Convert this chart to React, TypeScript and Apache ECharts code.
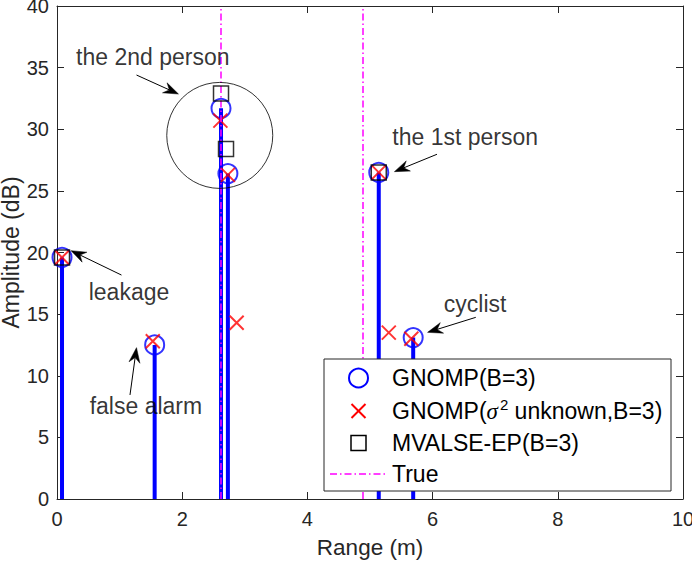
import React, { useEffect, useRef } from 'react';
import * as echarts from 'echarts';

// ---- data ----
const GNOMP_X = [0.08, 1.56, 2.62, 2.73, 5.14, 5.69];
const GNOMP_Y = [19.6, 12.5, 31.7, 26.4, 26.5, 13.1];
const SIGMA_X = [0.08, 1.53, 2.61, 2.73, 2.87, 5.14, 5.3, 5.66];
const SIGMA_Y = [19.6, 12.8, 30.7, 26.3, 14.3, 26.5, 13.5, 13.0];
const MVALSE_X = [0.08, 2.62, 2.7, 5.14];
const MVALSE_Y = [19.6, 32.9, 28.4, 26.5];
const TRUE_X = [2.62, 4.88];

const X_MIN = 0, X_MAX = 10, X_STEP = 2;
const Y_MIN = 0, Y_MAX = 40, Y_STEP = 5;

const LEGEND_NAMES = ['GNOMP(B=3)', 'GNOMP(σ2 unknown,B=3)', 'MVALSE-EP(B=3)', 'True'];

const NOTE_TEXTS = ['the 2nd person', 'the 1st person', 'leakage', 'false alarm', 'cyclist'];
const NOTE_POS = [[1.53, 35.9], [6.52, 29.4], [1.15, 16.8], [1.42, 7.55], [6.68, 15.8]];
const ARROW_FROM = [[1.27, 34.4], [6.07, 27.97], [1.03, 18.17], [1.166, 8.44], [6.69, 14.74]];
const ARROW_TO = [[1.94, 32.86], [5.39, 26.56], [0.224, 20.15], [1.27, 12.28], [5.92, 13.52]];
const RING_CENTER = [2.6, 29.5];

const FONT = '"Liberation Sans", Arial, Helvetica, sans-serif';
const AXIS_COLOR = '#262626';

const pairs = (xs: number[], ys: number[]) => xs.map((x, i) => [x, ys[i]]);

export default function App() {
  const ref = useRef<HTMLDivElement>(null);
  useEffect(() => {
    if (!ref.current) return;
    const chart = echarts.init(ref.current, undefined, { renderer: 'svg' });

    const baseAxis = {
      axisLine: { show: true, onZero: false, lineStyle: { color: AXIS_COLOR, width: 1 } },
      axisTick: { show: true, inside: true, length: 7, lineStyle: { color: AXIS_COLOR, width: 1 } },
      splitLine: { show: false },
      minorTick: { show: false },
      nameMoveOverlap: false,
    };

    const LEG = { x: 324, y: 359, w: 347, h: 132, rows: [378, 411, 443, 474], iconX: 358.5, textX: 392 };
    const legText = (i: number, text: string, rich?: any) => ({
      type: 'text',
      x: LEG.textX,
      y: LEG.rows[i],
      z: 102,
      silent: true,
      style: {
        text,
        fill: '#000',
        fontSize: 23,
        fontFamily: FONT,
        align: 'left',
        verticalAlign: 'middle',
        textAlign: 'left',
        textVerticalAlign: 'middle',
        rich,
      },
    });

    const arrowItem = (params: any, api: any) => {
      const p1 = api.coord([api.value(0), api.value(1)]);
      const p2 = api.coord([api.value(2), api.value(3)]);
      const dx = p2[0] - p1[0];
      const dy = p2[1] - p1[1];
      const len = Math.hypot(dx, dy) || 1;
      const ux = dx / len, uy = dy / len;
      const nx = -uy, ny = ux;
      const L = 15, W = 5.5, N = 10;
      const notch = [p2[0] - N * ux, p2[1] - N * uy];
      return {
        type: 'group',
        children: [
          {
            type: 'line',
            shape: { x1: p1[0], y1: p1[1], x2: notch[0], y2: notch[1] },
            style: { stroke: '#000', lineWidth: 1 },
          },
          {
            type: 'polygon',
            shape: {
              points: [
                p2,
                [p2[0] - L * ux + W * nx, p2[1] - L * uy + W * ny],
                notch,
                [p2[0] - L * ux - W * nx, p2[1] - L * uy - W * ny],
              ],
            },
            style: { fill: '#000', stroke: '#000', lineWidth: 0.5 },
          },
        ],
      };
    };

    const option: any = {
      animation: false,
      backgroundColor: '#fff',
      grid: { left: 57, right: 9, top: 6, bottom: 63, containLabel: false, outerBoundsMode: 'none' },
      xAxis: [
        {
          ...baseAxis,
          type: 'value', min: X_MIN, max: X_MAX, interval: X_STEP, position: 'bottom',
          axisLabel: { color: AXIS_COLOR, fontSize: 20, fontFamily: FONT, margin: 10 },
          name: 'Range (m)', nameLocation: 'middle', nameGap: 37,
          nameTextStyle: { color: AXIS_COLOR, fontSize: 22.5, fontFamily: FONT },
        },
        {
          ...baseAxis,
          type: 'value', min: X_MIN, max: X_MAX, interval: X_STEP, position: 'top',
          axisLabel: { show: false },
        },
      ],
      yAxis: [
        {
          ...baseAxis,
          type: 'value', min: Y_MIN, max: Y_MAX, interval: Y_STEP, position: 'left',
          axisLabel: { color: AXIS_COLOR, fontSize: 20, fontFamily: FONT, margin: 8 },
          name: 'Amplitude (dB)', nameLocation: 'middle', nameGap: 35,
          nameTextStyle: { color: AXIS_COLOR, fontSize: 23, fontFamily: FONT },
        },
        {
          ...baseAxis,
          type: 'value', min: Y_MIN, max: Y_MAX, interval: Y_STEP, position: 'right',
          axisLabel: { show: false },
        },
      ],
      series: [
        {
          name: 'stems',
          type: 'bar',
          data: pairs(GNOMP_X, GNOMP_Y),
          barWidth: 4,
          itemStyle: { color: '#0000FF' },
          silent: true,
          z: 2,
        },
        {
          name: LEGEND_NAMES[0],
          type: 'scatter',
          data: pairs(GNOMP_X, GNOMP_Y),
          symbol: 'circle',
          symbolSize: 19,
          itemStyle: { color: 'rgba(0,0,0,0)', borderColor: '#0000FF', borderWidth: 2 },
          silent: true,
          z: 3,
        },
        {
          name: LEGEND_NAMES[1],
          type: 'scatter',
          data: pairs(SIGMA_X, SIGMA_Y),
          symbol: 'path://M0,0L10,10M10,0L0,10',
          symbolSize: 14,
          itemStyle: { color: 'none', borderColor: '#FF0000', borderWidth: 2 },
          silent: true,
          z: 4,
        },
        {
          name: LEGEND_NAMES[2],
          type: 'scatter',
          data: pairs(MVALSE_X, MVALSE_Y),
          symbol: 'rect',
          symbolSize: 15,
          itemStyle: { color: 'rgba(0,0,0,0)', borderColor: '#000000', borderWidth: 1.5 },
          silent: true,
          z: 5,
        },
        {
          name: LEGEND_NAMES[3],
          type: 'line',
          data: [],
          silent: true,
          z: 6,
          markLine: {
            silent: true,
            symbol: ['none', 'none'],
            label: { show: false },
            lineStyle: { color: '#FF00FF', width: 1.5, type: [7, 3, 1.5, 3] },
            data: TRUE_X.map((x) => ({ xAxis: x })),
          },
        },
        {
          name: 'ring',
          type: 'scatter',
          data: [RING_CENTER],
          symbol: 'circle',
          symbolSize: 106,
          itemStyle: { color: 'rgba(0,0,0,0)', borderColor: '#000', borderWidth: 1 },
          silent: true,
          z: 7,
        },
        {
          name: 'notes',
          type: 'scatter',
          data: NOTE_POS.map((p, i) => ({ value: p, name: NOTE_TEXTS[i] })),
          symbol: 'circle',
          symbolSize: 1,
          itemStyle: { color: 'rgba(0,0,0,0)' },
          label: {
            show: true, position: 'inside', formatter: '{b}',
            color: '#000', fontSize: 23, fontFamily: FONT,
          },
          silent: true,
          z: 8,
        },
        {
          name: 'arrows',
          type: 'custom',
          data: ARROW_FROM.map((f, i) => [f[0], f[1], ARROW_TO[i][0], ARROW_TO[i][1]]),
          renderItem: arrowItem,
          silent: true,
          clip: false,
          z: 9,
        },
      ],
      graphic: [
        {
          type: 'rect', z: 100, silent: true,
          shape: { x: LEG.x, y: LEG.y, width: LEG.w, height: LEG.h },
          style: { fill: '#fff', stroke: AXIS_COLOR, lineWidth: 1 },
        },
        {
          type: 'circle', z: 101, silent: true,
          shape: { cx: LEG.iconX, cy: LEG.rows[0], r: 9.5 },
          style: { fill: 'none', stroke: '#0000FF', lineWidth: 2 },
        },
        {
          type: 'line', z: 101, silent: true,
          shape: { x1: LEG.iconX - 7, y1: LEG.rows[1] - 7, x2: LEG.iconX + 7, y2: LEG.rows[1] + 7 },
          style: { stroke: '#FF0000', lineWidth: 2 },
        },
        {
          type: 'line', z: 101, silent: true,
          shape: { x1: LEG.iconX + 7, y1: LEG.rows[1] - 7, x2: LEG.iconX - 7, y2: LEG.rows[1] + 7 },
          style: { stroke: '#FF0000', lineWidth: 2 },
        },
        {
          type: 'rect', z: 101, silent: true,
          shape: { x: LEG.iconX - 7.5, y: LEG.rows[2] - 7.5, width: 15, height: 15 },
          style: { fill: 'none', stroke: '#000', lineWidth: 1.5 },
        },
        {
          type: 'line', z: 101, silent: true,
          shape: { x1: 330, y1: LEG.rows[3], x2: 387, y2: LEG.rows[3] },
          style: { stroke: '#FF00FF', lineWidth: 1.5, lineDash: [7, 3, 1.5, 3] },
        },
        legText(0, LEGEND_NAMES[0]),
        legText(1, '{n|GNOMP(}{s|σ}{p|2}{n| unknown,B=3)}', {
          n: { fill: '#000', fontSize: 23, fontFamily: FONT, lineHeight: 28 },
          s: { fill: '#000', fontSize: 23, fontFamily: '"Liberation Serif", "Times New Roman", serif', fontStyle: 'italic', lineHeight: 28 },
          p: { fill: '#000', fontSize: 15, fontFamily: FONT, lineHeight: 15, verticalAlign: 'top', padding: [0, 0, 0, 2] },
        }),
        legText(2, LEGEND_NAMES[2]),
        legText(3, LEGEND_NAMES[3]),
      ],
    };

    chart.setOption(option);
    return () => chart.dispose();
  }, []);

  return (
    <div
      ref={ref}
      style={{ position: 'fixed', left: 0, top: 0, width: 692, height: 562, background: '#fff' }}
    />
  );
}
